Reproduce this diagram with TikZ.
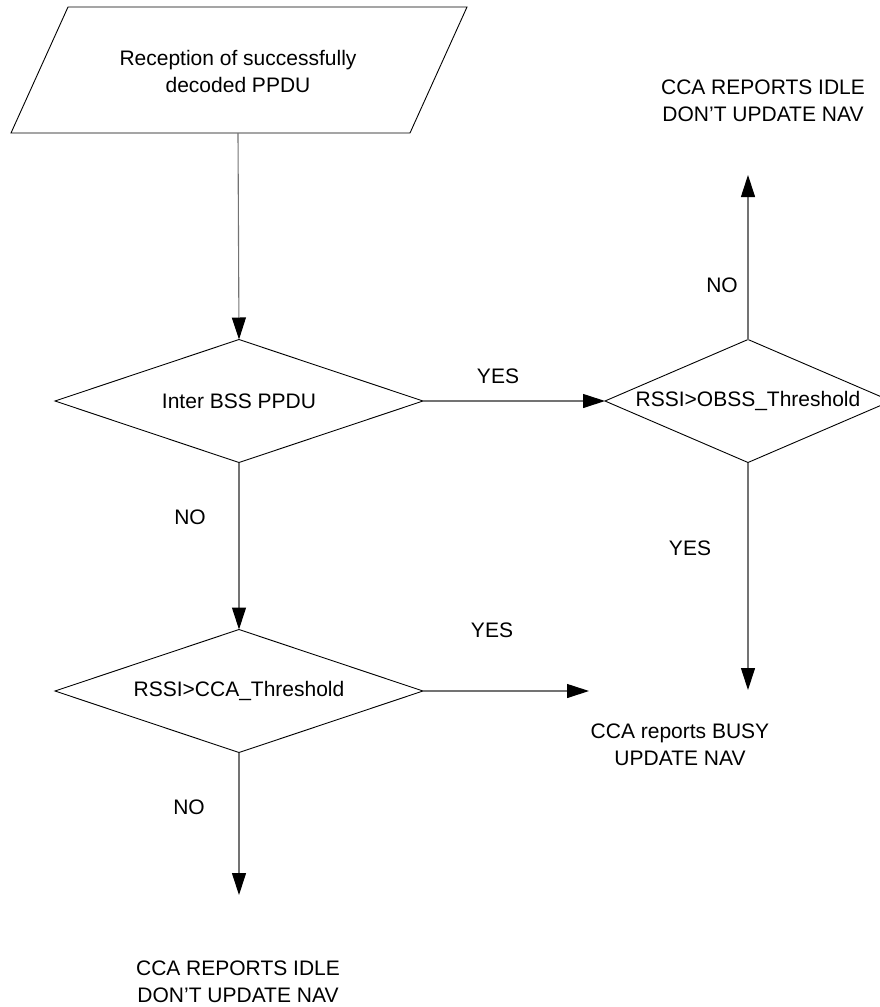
\documentclass[tikz,border=0pt]{standalone}
\usepackage{fontspec}
\setmainfont{Liberation Sans}
\usetikzlibrary{shapes.geometric,arrows.meta}
\begin{document}
\begin{tikzpicture}[x=1pt,y=-1pt,
  txt/.style={font=\fontsize{21}{27}\selectfont, align=center, inner sep=0pt},
  decision/.style={draw=black, line width=0.9pt, shape=diamond, inner sep=0pt, outer sep=0pt},
  flow/.style={draw=black!55, line width=1.1pt,
    -{Triangle[length=22pt,width=14pt,color=black]}},
]
\useasboundingbox (0,0) rectangle (880,1007);
\clip (0,0) rectangle (880,1007);

% start: input/output parallelogram
\draw[line width=0.9pt] (68,7) -- (467,7) -- (410,133) -- (11,133) -- cycle;
\node[txt] (start) at (238,71) {Reception of successfully\\decoded PPDU};
\coordinate (startout) at (238,133);

% decisions
\node[decision, minimum width=368pt, minimum height=123pt] (d1) at (239,401) {};
\node[txt] (d1t) at (d1.center) {Inter BSS PPDU};
\node[decision, minimum width=286pt, minimum height=123pt] (d2) at (748,401) {};
\node[txt] (d2t) at (d2.center) {RSSI>OBSS\_Threshold};
\node[decision, minimum width=368pt, minimum height=123pt] (d3) at (239,691) {};
\node[txt] (d3t) at (d3.center) {RSSI>CCA\_Threshold};

% outcomes
\node[txt] (idleA) at (763,101) {CCA REPORTS IDLE\\DON'T UPDATE NAV};
\node[txt] (busy) at (680,745) {CCA reports BUSY\\UPDATE NAV};
\node[txt] (idleB) at (238,982) {CCA REPORTS IDLE\\DON'T UPDATE NAV};

% free ends of the connectors
\coordinate (idleAin) at (748,175);
\coordinate (busyfromtop) at (748,690);
\coordinate (busyfromleft) at (589,691);
\coordinate (idleBin) at (239,895);

% connectors
\draw[flow] (startout) -- (d1.north);
\draw[flow] (d1.east) -- (d2.west);
\draw[flow] (d2.north) -- (idleAin);
\draw[flow] (d2.south) -- (busyfromtop);
\draw[flow] (d1.south) -- (d3.north);
\draw[flow] (d3.east) -- (busyfromleft);
\draw[flow] (d3.south) -- (idleBin);

% branch labels
\node[txt] (yes1) at (498,376) {YES};
\node[txt] (no1) at (722,285) {NO};
\node[txt] (yes2) at (690,548) {YES};
\node[txt] (no2) at (190,517) {NO};
\node[txt] (yes3) at (492,630) {YES};
\node[txt] (no3) at (189,807) {NO};
\end{tikzpicture}
\end{document}
